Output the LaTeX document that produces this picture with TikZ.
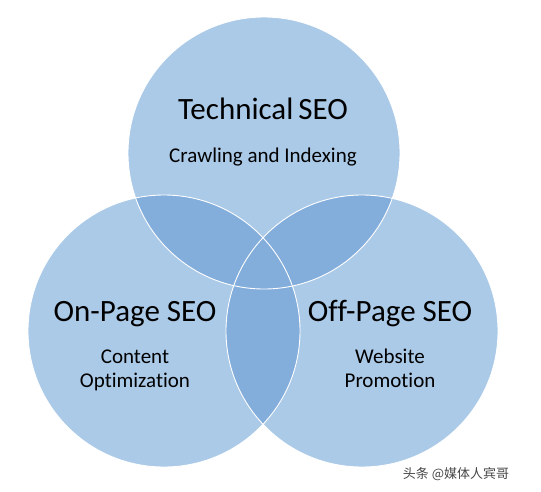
\documentclass[tikz,border=0pt]{standalone}
\usepackage{fontspec}
\setmainfont{Carlito}[Ligatures=NoCommon]
\newfontfamily\cjkfont{Noto Sans CJK SC}
\usepackage{tikz}
\definecolor{vennlight}{RGB}{171, 202, 232}
\definecolor{venndark}{RGB}{131, 173, 219}
\definecolor{markgrey}{RGB}{70, 70, 70}

\begin{document}
\begin{tikzpicture}[x=1pt, y=-1pt,
  vennset/.style={circle, fill=vennlight, minimum size=272pt, inner sep=0pt},
  venntitle/.style={anchor=base, font=\fontsize{31}{36}\selectfont},
  vennsub/.style={anchor=base, align=center, font=\fontsize{21}{24}\selectfont}]
\useasboundingbox (0,0) rectangle (541,491);

% the three sets
\node[vennset] (tech) at (264,153) {};
\node[vennset] (onpage) at (164,331) {};
\node[vennset] (offpage) at (362,331) {};

% overlaps
\begin{scope}
\clip (tech.center) circle (136pt);
\fill[venndark] (onpage.center) circle (136pt);
\fill[venndark] (offpage.center) circle (136pt);
\end{scope}
\begin{scope}
\clip (onpage.center) circle (136pt);
\fill[venndark] (offpage.center) circle (136pt);
\end{scope}
\foreach \s in {tech, onpage, offpage}
  \draw[white, line width=0.9pt] (\s.center) circle (136pt);

% labels (base of a two-line node = its last line)
\node[venntitle] (techtitle) at (263,119) {Technical\kern-2pt\ SEO};
\node[vennsub] (techsub) at (263,162) {Crawling and Indexing};
\node[venntitle] (ontitle) at (135,321) {On-Page SEO};
\node[vennsub] (onsub) at (135,387) {Content\\Optimization};
\node[venntitle] (offtitle) at (390,321) {Off-Page SEO};
\node[vennsub] (offsub) at (390,387) {Website\\Promotion};

\node[anchor=base, text=markgrey, font=\cjkfont\fontsize{13}{15}\selectfont] (mark) at (456,478) {头条 @媒体人宾哥};
\end{tikzpicture}
\end{document}
